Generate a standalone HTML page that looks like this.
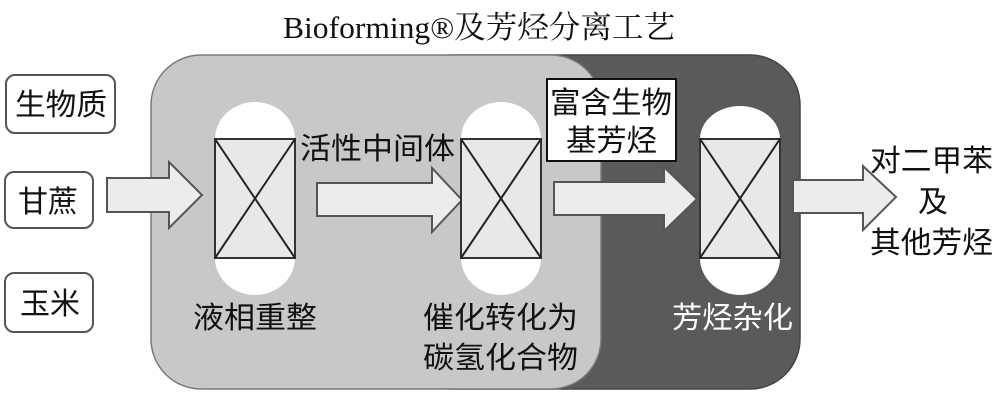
<!DOCTYPE html>
<html><head><meta charset="utf-8"><style>
html,body{margin:0;padding:0;background:#fff;}
svg{display:block;}
.t{font-family:"Liberation Sans","Noto Sans CJK SC",sans-serif;font-size:30px;fill:#111;}
</style></head><body>
<svg width="1000" height="400" viewBox="0 0 1000 400" xmlns="http://www.w3.org/2000/svg">
<!-- title -->
<text x="283" y="38" font-family="'Liberation Serif','Noto Serif CJK SC',serif" font-size="31" fill="#111" textLength="392" lengthAdjust="spacingAndGlyphs">Bioforming®及芳烃分离工艺</text>

<!-- dark box -->
<rect x="400" y="55" width="400" height="334" rx="50" ry="50" fill="#5a5a5a" stroke="#444" stroke-width="1.5"/>
<!-- light box -->
<rect x="151" y="55" width="450" height="334" rx="50" ry="50" fill="#c8c8c8" stroke="#7a7a7a" stroke-width="1.5"/>

<!-- input boxes -->
<rect x="6" y="75" width="109" height="58" rx="9" fill="#fff" stroke="#555" stroke-width="2"/>
<rect x="5" y="172" width="88" height="56" rx="9" fill="#fff" stroke="#555" stroke-width="2"/>
<rect x="5" y="273" width="88" height="59" rx="9" fill="#fff" stroke="#555" stroke-width="2"/>
<text class="t" x="15" y="115" textLength="92" lengthAdjust="spacingAndGlyphs">生物质</text>
<text class="t" x="18" y="212" textLength="60" lengthAdjust="spacingAndGlyphs">甘蔗</text>
<text class="t" x="20" y="314" textLength="60" lengthAdjust="spacingAndGlyphs">玉米</text>

<!-- arrows -->
<g fill="#ececec" stroke="#555" stroke-width="2" stroke-linejoin="miter">
<polygon points="107,178 169,178 169,162 202,195 169,228 169,212 107,212"/>
<polygon points="317,183 432,183 432,168 462,200 432,232 432,216 317,216"/>
<polygon points="554,182 664,182 664,167 697,199 664,231 664,215 554,215"/>
<polygon points="793,180 863,180 863,166 896,197 863,230 863,213 793,213"/>
</g>

<!-- reactors -->
<g>
<ellipse cx="255" cy="139" rx="40" ry="37" fill="#fff"/>
<ellipse cx="255" cy="258" rx="40" ry="37" fill="#fff"/>
<rect x="215" y="139" width="80" height="119" fill="#e8e8e8" stroke="#333" stroke-width="2"/>
<line x1="215" y1="139" x2="295" y2="258" stroke="#222" stroke-width="2"/>
<line x1="295" y1="139" x2="215" y2="258" stroke="#222" stroke-width="2"/>

<ellipse cx="501" cy="139" rx="40" ry="37" fill="#fff"/>
<ellipse cx="501" cy="258" rx="40" ry="37" fill="#fff"/>
<rect x="461" y="139" width="80" height="119" fill="#e8e8e8" stroke="#333" stroke-width="2"/>
<line x1="461" y1="139" x2="541" y2="258" stroke="#222" stroke-width="2"/>
<line x1="541" y1="139" x2="461" y2="258" stroke="#222" stroke-width="2"/>

<ellipse cx="740" cy="139" rx="40" ry="33" fill="#fff"/>
<ellipse cx="740" cy="258" rx="40" ry="37" fill="#fff"/>
<rect x="700" y="139" width="80" height="119" fill="#e8e8e8" stroke="#333" stroke-width="2"/>
<line x1="700" y1="139" x2="780" y2="258" stroke="#222" stroke-width="2"/>
<line x1="780" y1="139" x2="700" y2="258" stroke="#222" stroke-width="2"/>
</g>

<!-- label box -->
<rect x="547" y="79" width="129" height="82" fill="#fff" stroke="#111" stroke-width="2"/>
<text class="t" x="550" y="113" textLength="122" lengthAdjust="spacingAndGlyphs">富含生物</text>
<text class="t" x="566" y="151" textLength="91" lengthAdjust="spacingAndGlyphs">基芳烃</text>

<!-- labels -->
<text class="t" x="300" y="159" textLength="155" lengthAdjust="spacingAndGlyphs">活性中间体</text>
<text class="t" x="193" y="328" textLength="124" lengthAdjust="spacingAndGlyphs">液相重整</text>
<text class="t" x="423" y="328" textLength="155" lengthAdjust="spacingAndGlyphs">催化转化为</text>
<text class="t" x="423" y="368" textLength="155" lengthAdjust="spacingAndGlyphs">碳氢化合物</text>
<text class="t" x="672" y="328" textLength="121" lengthAdjust="spacingAndGlyphs" style="fill:#fff">芳烃杂化</text>
<text class="t" x="870" y="171" textLength="123" lengthAdjust="spacingAndGlyphs">对二甲苯</text>
<text class="t" x="933" y="212" text-anchor="middle">及</text>
<text class="t" x="870" y="253" textLength="123" lengthAdjust="spacingAndGlyphs">其他芳烃</text>
</svg>
</body></html>
